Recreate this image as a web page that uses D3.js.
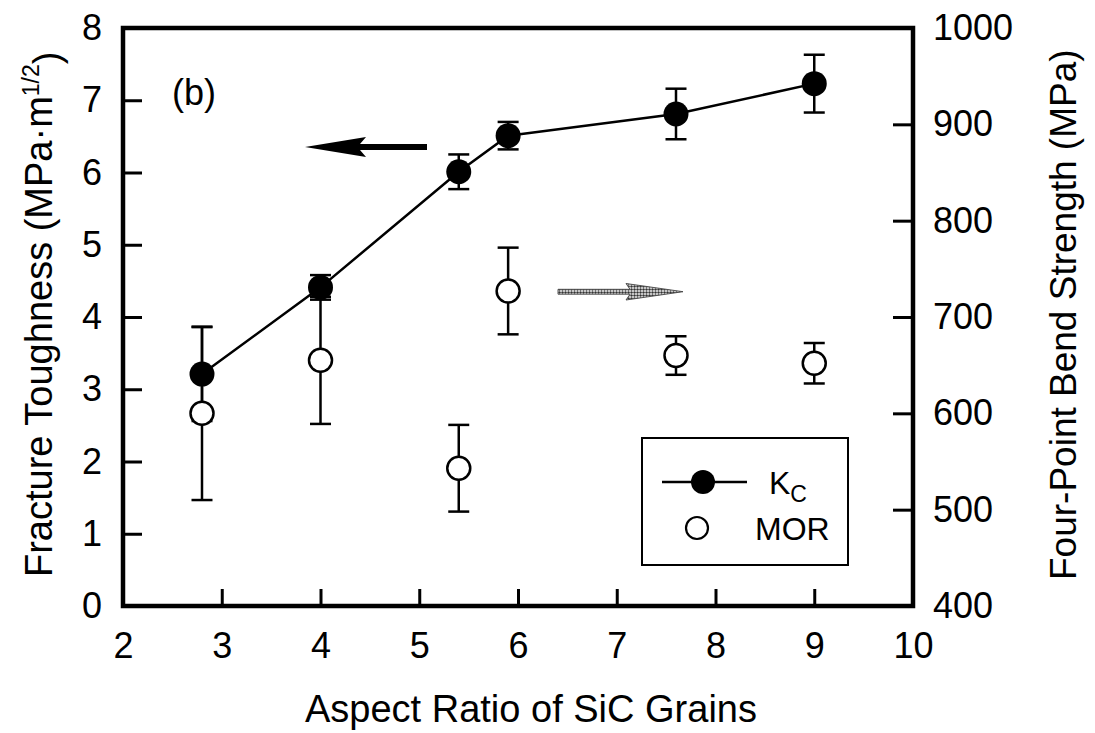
<!DOCTYPE html>
<meta charset="utf-8">
<script src="https://d3js.org/d3.v7.min.js"></script>
<style>
  body { margin: 0; background: #fff; }
  text { font-family: "Liberation Sans", Arial, Helvetica, sans-serif; fill: #000; }
</style>
<div id="my_dataviz"></div>
<script>

// data
var aspectRatio = [2.8, 4.0, 5.4, 5.9, 7.6, 9.0];
var kc = [3.21, 4.41, 6.01, 6.51, 6.81, 7.23];      // MPa·m^1/2
var kcErr = [0.65, 0.17, 0.24, 0.19, 0.35, 0.40];
var mor = [600, 655, 543, 727, 660, 652];             // MPa
var morErr = [90, 66, 45, 45, 20, 21];

var xTicks = [2, 3, 4, 5, 6, 7, 8, 9, 10];
var leftTicks = [0, 1, 2, 3, 4, 5, 6, 7, 8];
var rightTicks = [400, 500, 600, 700, 800, 900, 1000];

var width = 1095, height = 733;
var margin = {top: 28, right: 182, bottom: 127, left: 123};

var svg = d3.select("#my_dataviz")
  .append("svg")
    .attr("width", width)
    .attr("height", height);

var x = d3.scaleLinear().domain([2, 10]).range([margin.left, width - margin.right]);
var yL = d3.scaleLinear().domain([0, 8]).range([height - margin.bottom, margin.top]);
var yR = d3.scaleLinear().domain([400, 1000]).range([height - margin.bottom, margin.top]);

// axes, ticks pointing inward
var xAxis = svg.append("g")
  .attr("transform", "translate(0," + yL(0) + ")")
  .call(d3.axisBottom(x).tickValues(xTicks).tickSize(-17).tickPadding(26).tickFormat(d3.format("d")));
var lAxis = svg.append("g")
  .attr("transform", "translate(" + x(2) + ",0)")
  .call(d3.axisLeft(yL).tickValues(leftTicks).tickSize(-19).tickPadding(21).tickFormat(d3.format("d")));
var rAxis = svg.append("g")
  .attr("transform", "translate(" + x(10) + ",0)")
  .call(d3.axisRight(yR).tickValues(rightTicks).tickSize(-20).tickPadding(20).tickFormat(d3.format("d")));

[xAxis, lAxis, rAxis].forEach(function(a) {
  a.select(".domain").remove();
  a.selectAll(".tick line").attr("stroke", "#000").attr("stroke-width", 3);
  a.selectAll("text").style("font-size", "36px").attr("fill", "#000");
});

// frame
svg.append("rect")
  .attr("x", x(2)).attr("y", yL(8))
  .attr("width", x(10) - x(2)).attr("height", yL(0) - yL(8))
  .attr("fill", "none").attr("stroke", "#000").attr("stroke-width", 4.5);

// axis titles
svg.append("text")
  .attr("x", 305).attr("y", 722)
  .style("font-size", "38px")
  .text("Aspect Ratio of SiC Grains");

var lt = svg.append("text")
  .attr("transform", "translate(52,577) rotate(-90)")
  .style("font-size", "38px");
lt.append("tspan").text("Fracture Toughness (MPa\u00b7m");
lt.append("tspan").attr("dy", "-0.55em").style("font-size", "23px").text("1/2");
lt.append("tspan").attr("dy", "0.55em").text(")");

svg.append("text")
  .attr("transform", "translate(1076,580) rotate(-90)")
  .style("font-size", "37px")
  .text("Four-Point Bend Strength (MPa)");

// panel label
svg.append("text")
  .attr("x", 172).attr("y", 105)
  .style("font-size", "36px")
  .text("(b)");

// arrows
svg.append("path")
  .attr("d", "M305,147 L366,137 L360,144 L427,144 L427,150 L360,150 L366,157 Z")
  .attr("fill", "#000");

var defs = svg.append("defs");
var pat = defs.append("pattern")
  .attr("id", "dots").attr("patternUnits", "userSpaceOnUse")
  .attr("width", 3).attr("height", 3);
pat.append("rect").attr("width", 3).attr("height", 3).attr("fill", "#fff");
pat.append("circle").attr("cx", 1.5).attr("cy", 1.5).attr("r", 1.25).attr("fill", "#333");

svg.append("path")
  .attr("d", "M558,289.3 L630,289.3 L626,283.5 L683,291.7 L626,300 L630,294.2 L558,294.2 Z")
  .attr("fill", "url(#dots)").attr("stroke", "#444").attr("stroke-width", 0.9);

// error bars
function errBars(vals, errs, y, cls) {
  var g = svg.append("g").attr("class", cls)
    .attr("stroke", "#000").attr("stroke-width", 2.5);
  aspectRatio.forEach(function(a, i) {
    var cx = x(a), top = y(vals[i] + errs[i]), bot = y(vals[i] - errs[i]);
    g.append("line").attr("x1", cx).attr("x2", cx).attr("y1", top).attr("y2", bot);
    g.append("line").attr("x1", cx - 10.5).attr("x2", cx + 10.5).attr("y1", top).attr("y2", top);
    g.append("line").attr("x1", cx - 10.5).attr("x2", cx + 10.5).attr("y1", bot).attr("y2", bot);
  });
}
errBars(kc, kcErr, yL, "kc-err");
errBars(mor, morErr, yR, "mor-err");

// Kc line and filled markers
var line = d3.line()
  .x(function(d, i) { return x(aspectRatio[i]); })
  .y(function(d) { return yL(d); });
svg.append("path")
  .datum(kc)
  .attr("d", line)
  .attr("fill", "none").attr("stroke", "#000").attr("stroke-width", 2.5);

svg.selectAll(".kc-dot")
  .data(kc)
  .enter().append("circle")
    .attr("class", "kc-dot")
    .attr("cx", function(d, i) { return x(aspectRatio[i]); })
    .attr("cy", function(d) { return yL(d); })
    .attr("r", 12.5)
    .attr("fill", "#000");

// MOR open markers
svg.selectAll(".mor-dot")
  .data(mor)
  .enter().append("circle")
    .attr("class", "mor-dot")
    .attr("cx", function(d, i) { return x(aspectRatio[i]); })
    .attr("cy", function(d) { return yR(d); })
    .attr("r", 11.5)
    .attr("fill", "#fff").attr("stroke", "#000").attr("stroke-width", 2.5);

// legend
var lg = svg.append("g");
lg.append("rect")
  .attr("x", 642).attr("y", 438).attr("width", 206).attr("height", 127)
  .attr("fill", "#fff").attr("stroke", "#000").attr("stroke-width", 2);
lg.append("line")
  .attr("x1", 662).attr("x2", 747).attr("y1", 482).attr("y2", 482)
  .attr("stroke", "#000").attr("stroke-width", 2.5);
lg.append("circle").attr("cx", 703).attr("cy", 482).attr("r", 12).attr("fill", "#000");
var kt = lg.append("text").attr("x", 769).attr("y", 494).style("font-size", "32px");
kt.append("tspan").text("K");
kt.append("tspan").attr("dy", 8).style("font-size", "23px").text("C");
lg.append("circle").attr("cx", 697).attr("cy", 528).attr("r", 11)
  .attr("fill", "#fff").attr("stroke", "#000").attr("stroke-width", 2.2);
lg.append("text").attr("x", 755).attr("y", 540).style("font-size", "32px").text("MOR");

</script>
